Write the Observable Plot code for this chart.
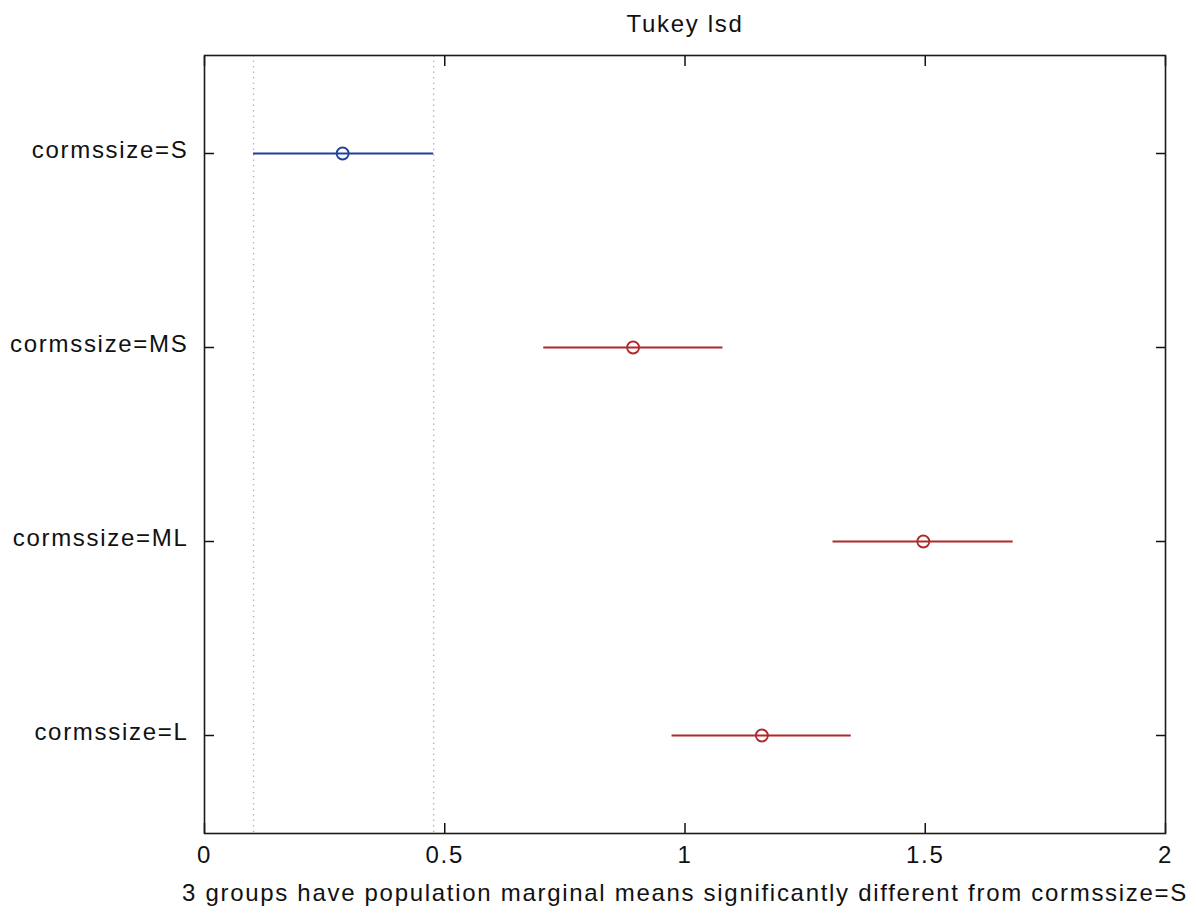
<!DOCTYPE html>
<html>
<head>
<meta charset="utf-8">
<script src="https://cdn.jsdelivr.net/npm/d3@7"></script>
<script src="https://cdn.jsdelivr.net/npm/@observablehq/plot@0.6"></script>
<style>
  html, body { margin: 0; padding: 0; background: #fff; overflow: hidden; }
</style>
</head>
<body>
<div id="chart"></div>
<script>
// ---- data ----
const groups = ["cormssize=S", "cormssize=MS", "cormssize=ML", "cormssize=L"];
const means  = [0.2875, 0.892, 1.496, 1.160];
const lower  = [0.102, 0.706, 1.308, 0.973];
const upper  = [0.477, 1.079, 1.683, 1.346];
const comparedTo = "cormssize=S";
const xTicks = [0, 0.5, 1, 1.5, 2];
const titleText = "Tukey lsd";
const footText = "3 groups have population marginal means significantly different from cormssize=S";

// ---- build rows ----
const rows = groups.map((g, i) => ({group: g, mean: means[i], lo: lower[i], hi: upper[i], selected: g === comparedTo}));
const ctrl = rows.find(r => r.selected);
const BLUE = "#20409a";
const RED = "#b0282a";
const colorOf = d => d.selected ? BLUE : RED;

const chart = Plot.plot({
  width: 1197,
  height: 916,
  marginLeft: 204,
  marginRight: 32,
  marginTop: 55,
  marginBottom: 83,
  style: {
    fontFamily: '"Liberation Sans", Arial, sans-serif',
    fontSize: "24px",
    letterSpacing: "1.7px",
    background: "white",
    color: "#111",
    overflow: "visible"
  },
  x: {domain: [0, 2]},
  y: {type: "point", domain: groups, padding: 0.5},
  color: {type: "identity"},
  marks: [
    Plot.ruleX([ctrl.lo, ctrl.hi], {stroke: "#b5b5b5", strokeWidth: 1.3, strokeDasharray: "1.5,4"}),
    Plot.ruleY(rows, {y: "group", x1: "lo", x2: "hi", stroke: colorOf, strokeWidth: 2}),
    Plot.dot(rows, {x: "mean", y: "group", r: 6, stroke: colorOf, strokeWidth: 1.8, fill: "none"}),
    // tick labels
    Plot.axisX(xTicks, {anchor: "bottom", tickSize: 0, tickPadding: 12, tickFormat: d => String(d), label: null}),
    Plot.axisY({anchor: "left", tickSize: 0, tickPadding: 16, dy: -3, label: null}),
    // inward ticks
    Plot.axisX(xTicks, {anchor: "bottom", tickSize: 10, dy: -10, strokeWidth: 1.5, tickFormat: () => "", label: null}),
    Plot.axisX(xTicks, {anchor: "top", tickSize: 10, dy: 10, strokeWidth: 1.5, tickFormat: () => "", label: null}),
    Plot.axisY({anchor: "left", tickSize: 10, dx: 10, strokeWidth: 1.5, tickFormat: () => "", label: null}),
    Plot.axisY({anchor: "right", tickSize: 10, dx: -10, strokeWidth: 1.5, tickFormat: () => "", label: null}),
    Plot.frame({stroke: "#1a1a1a", strokeWidth: 1.6}),
    // title and footer label
    Plot.text([titleText], {frameAnchor: "top", text: d => d, dy: -24, lineAnchor: "bottom", fill: "#111"}),
    Plot.text([footText], {frameAnchor: "bottom", text: d => d, dy: 67, lineAnchor: "bottom", fill: "#111"})
  ]
});
document.getElementById("chart").appendChild(chart);
</script>
</body>
</html>
